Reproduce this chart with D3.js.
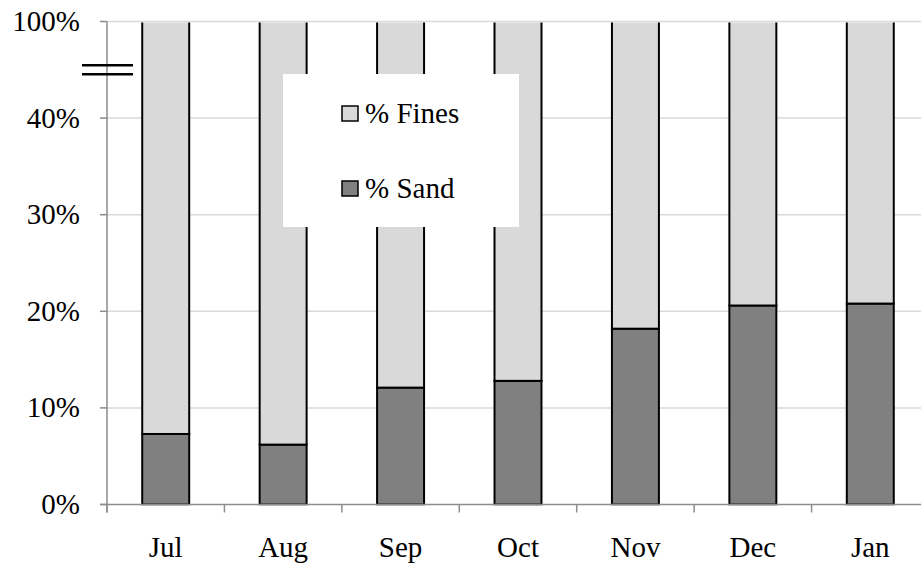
<!DOCTYPE html>
<html>
<head>
<meta charset="utf-8">
<script src="https://cdn.jsdelivr.net/npm/d3@7"></script>
<style>
  body { margin: 0; background: #fff; }
</style>
</head>
<body>
<script>
// months along the x axis
var months = ["Jul", "Aug", "Sep", "Oct", "Nov", "Dec", "Jan"];
// % sand per month, fines is the remainder
var sand = [7.3, 6.2, 12.1, 12.8, 18.2, 20.6, 20.8];
var fines = [92.7, 93.8, 87.9, 87.2, 81.8, 79.4, 79.2];
// y ticks: the axis is broken, the top tick stands for 100%
var yTicks = [0, 10, 20, 30, 40, 50];
var yTickLabels = ["0%", "10%", "20%", "30%", "40%", "100%"];
var seriesNames = ["% Fines", "% Sand"];

function init(){
    var w = 921;
    var h = 565;
    var left = 107, right = 929, top = 21.5, bottom = 504.5;
    var font = "'Liberation Serif'";

    var svg = d3.select("body")
        .append("svg")
        .attr("width", w)
        .attr("height", h);

    var x = d3.scaleBand()
        .domain(months)
        .range([left, right])
        .paddingInner(0.6)
        .paddingOuter(0.3);
    var xTicks = d3.scalePoint()
        .domain(d3.range(months.length + 1))
        .range([left, right]);
    var y = d3.scaleLinear()
        .domain([0, 50])
        .range([bottom, top]);

    var color = {"% Fines": "#d9d9d9", "% Sand": "#808080"};

    //gridlines
    svg.selectAll("line.grid")
        .data(yTicks.slice(1))
        .enter()
        .append("line")
        .attr("class", "grid")
        .attr("x1", left).attr("x2", w)
        .attr("y1", function(d){ return y(d); })
        .attr("y2", function(d){ return y(d); })
        .attr("stroke", "#d9d9d9")
        .attr("stroke-width", 1.5);

    // bars run past the top of the broken axis, so cut them off there
    svg.append("clipPath").attr("id", "plot")
        .append("rect")
        .attr("x", 0).attr("y", top + 1)
        .attr("width", w).attr("height", bottom - top);

    //stack sand first, then fines on top of it
    var rows = months.map(function(m, i){ return {month: m, "% Sand": sand[i], "% Fines": fines[i]}; });
    var stack = d3.stack().keys(["% Sand", "% Fines"])(rows);

    var g = svg.append("g").attr("clip-path", "url(#plot)");
    g.selectAll("g.series")
        .data(stack)
        .enter()
        .append("g")
        .attr("fill", function(d){ return color[d.key]; })
        .selectAll("rect")
        .data(function(d){ return d; })
        .enter()
        .append("rect")
        .attr("x", function(d){ return x(d.data.month); })
        .attr("width", x.bandwidth())
        .attr("y", function(d){ return y(d[1]); })
        .attr("height", function(d){ return y(d[0]) - y(d[1]); })
        .attr("stroke", "#000")
        .attr("stroke-width", 2);

    //axes
    var axisColor = "#8c8c8c";
    svg.append("line")
        .attr("x1", left).attr("x2", left)
        .attr("y1", top).attr("y2", bottom + 8)
        .attr("stroke", axisColor).attr("stroke-width", 1.5);
    svg.append("line")
        .attr("x1", left - 7).attr("x2", w)
        .attr("y1", bottom).attr("y2", bottom)
        .attr("stroke", axisColor).attr("stroke-width", 1.5);

    svg.selectAll("line.ytick")
        .data(yTicks)
        .enter()
        .append("line")
        .attr("x1", left - 7).attr("x2", left)
        .attr("y1", function(d){ return y(d); })
        .attr("y2", function(d){ return y(d); })
        .attr("stroke", axisColor).attr("stroke-width", 1.5);
    svg.selectAll("line.xtick")
        .data(xTicks.domain())
        .enter()
        .append("line")
        .attr("x1", function(d){ return xTicks(d); })
        .attr("x2", function(d){ return xTicks(d); })
        .attr("y1", bottom).attr("y2", bottom + 8)
        .attr("stroke", axisColor).attr("stroke-width", 1.5);

    svg.selectAll("text.ylab")
        .data(yTicks)
        .enter()
        .append("text")
        .attr("x", 80)
        .attr("y", function(d){ return y(d) + 9.5; })
        .attr("text-anchor", "end")
        .style("font-family", font)
        .style("font-size", "29px")
        .text(function(d, i){ return yTickLabels[i]; });

    svg.selectAll("text.xlab")
        .data(months)
        .enter()
        .append("text")
        .attr("x", function(d){ return x(d) + x.bandwidth() / 2; })
        .attr("y", 557)
        .attr("text-anchor", "middle")
        .style("font-family", font)
        .style("font-size", "29px")
        .text(function(d){ return d; });

    //axis break marks
    var yb = y(45);
    [yb - 4.5, yb + 4.5].forEach(function(yy){
        svg.append("line")
            .attr("x1", 82).attr("x2", 133)
            .attr("y1", yy).attr("y2", yy)
            .attr("stroke", "#000").attr("stroke-width", 2.5);
    });

    //legend
    svg.append("rect")
        .attr("x", 283).attr("y", 74)
        .attr("width", 236).attr("height", 153)
        .attr("fill", "#fff");
    var leg = svg.selectAll("g.legend")
        .data(seriesNames)
        .enter()
        .append("g")
        .attr("transform", function(d, i){ return "translate(342," + (106 + i * 75) + ")"; });
    leg.append("rect")
        .attr("width", 16).attr("height", 15)
        .attr("fill", function(d){ return color[d]; })
        .attr("stroke", "#000").attr("stroke-width", 1.5);
    leg.append("text")
        .attr("x", 23).attr("y", 17)
        .style("font-family", font)
        .style("font-size", "29px")
        .text(function(d){ return d; });
}

window.onload = init;
</script>
</body>
</html>
